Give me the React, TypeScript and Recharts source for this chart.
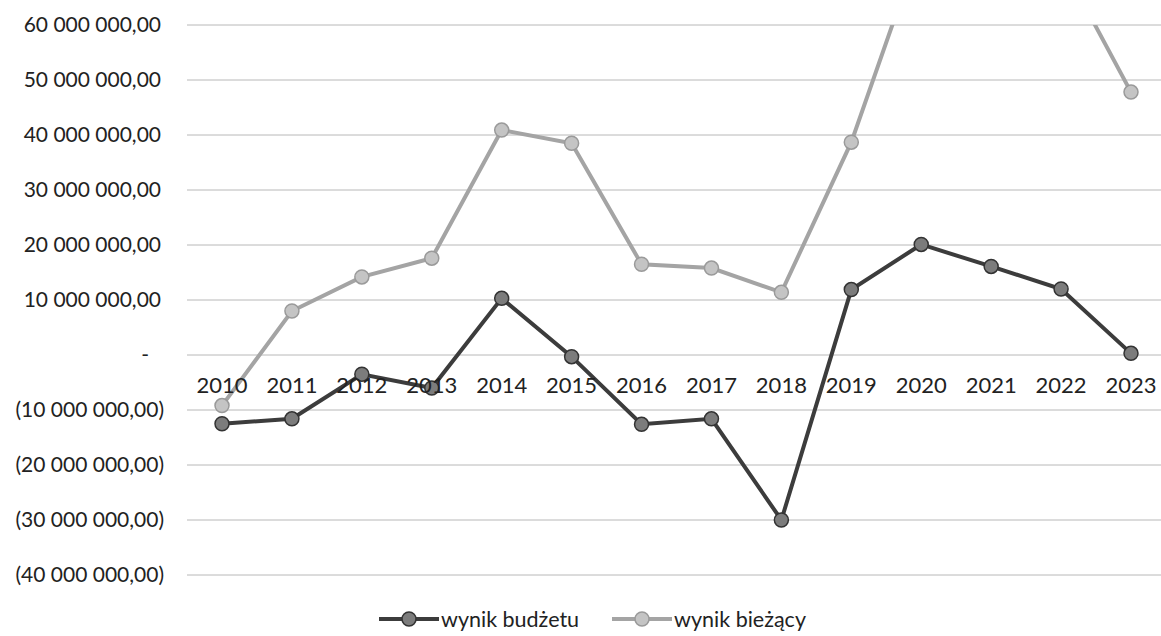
import React from 'react';
import { LineChart, Line, XAxis, YAxis, CartesianGrid, Legend, LabelList } from 'recharts';

const years = ['2010', '2011', '2012', '2013', '2014', '2015', '2016', '2017', '2018', '2019', '2020', '2021', '2022', '2023'];
const wynikBudzetu = [-12500000, -11600000, -3500000, -6000000, 10300000, -300000, -12600000, -11600000, -30000000, 11900000, 20100000, 16100000, 12000000, 300000];
const wynikBiezacy = [-9200000, 8000000, 14200000, 17600000, 40900000, 38500000, 16500000, 15800000, 11400000, 38700000, 75000000, 73000000, 71500000, 47800000];
const yTicks = [-40000000, -30000000, -20000000, -10000000, 0, 10000000, 20000000, 30000000, 40000000, 50000000, 60000000];

const seriesMeta = [
  { key: 'budzet', name: 'wynik budżetu', line: '#3c3c3c', dotFill: '#7c7c7c', dotStroke: '#333333' },
  { key: 'biezacy', name: 'wynik bieżący', line: '#a4a4a4', dotFill: '#c4c4c4', dotStroke: '#9a9a9a' },
];

const data = years.map((year, i) => ({ year, budzet: wynikBudzetu[i], biezacy: wynikBiezacy[i] }));

const FONT = 'Lato, "Open Sans", sans-serif';
const TEXT = '#222222';

const fmtNum = (v: number) => {
  const abs = Math.abs(v);
  const s = Math.round(abs).toString().replace(/\B(?=(\d{3})+(?!\d))/g, ' ');
  return s + ',00';
};

const YTick = (props: any) => {
  const { x, y, payload } = props;
  const v = payload.value as number;
  let label: string;
  let dx = 0;
  if (v === 0) {
    label = '-';
    dx = -14;
  } else if (v < 0) {
    label = '(' + fmtNum(v) + ')';
    dx = 1;
  } else {
    label = fmtNum(v);
    dx = -2;
  }
  return (
    <text x={x + dx} y={y} dy={7} textAnchor="end" fontFamily={FONT} fontSize={21} fill={TEXT}>
      {label}
    </text>
  );
};

const YearLabel = (props: any) => {
  const { x, y, value } = props;
  return (
    <text x={x} y={y + 38} textAnchor="middle" fontFamily={FONT} fontSize={22} fill={TEXT}>
      {value}
    </text>
  );
};

const renderLegend = () => (
  <div style={{ display: 'flex', justifyContent: 'center', alignItems: 'center', paddingLeft: 24, fontFamily: FONT, fontSize: 21.5, color: TEXT, height: 28 }}>
    {seriesMeta.map((s, i) => (
      <div key={s.key} style={{ display: 'flex', alignItems: 'center', marginRight: i === 0 ? 33 : 0 }}>
        <svg width={60} height={20}>
          <line x1={0} y1={10} x2={60} y2={10} stroke={s.line} strokeWidth={4} />
          <circle cx={30} cy={10} r={7} fill={s.dotFill} stroke={s.dotStroke} strokeWidth={1.5} />
        </svg>
        <span style={{ marginLeft: 2 }}>{s.name}</span>
      </div>
    ))}
  </div>
);

export default function App() {
  return (
    <div style={{ position: 'absolute', left: 0, top: 0, width: 1161, height: 636, background: '#ffffff' }}>
      <LineChart width={1161} height={636} data={data} margin={{ top: 25, right: 0, bottom: 61, left: 0 }}>
        <CartesianGrid vertical={false} stroke="#b8b8b8" strokeWidth={1} />
        <XAxis dataKey="year" hide padding={{ left: 35, right: 30 }} />
        <YAxis
          domain={[-40000000, 60000000]}
          ticks={yTicks}
          allowDataOverflow
          axisLine={false}
          tickLine={false}
          tickSize={0}
          tickMargin={24}
          width={187}
          tick={<YTick />}
          interval={0}
        />
        <Line
          dataKey={() => 0}
          stroke="none"
          dot={false}
          activeDot={false}
          legendType="none"
          isAnimationActive={false}
        >
          <LabelList dataKey="year" content={<YearLabel />} />
        </Line>
        {seriesMeta.map((s) => (
          <Line
            key={s.key}
            dataKey={s.key}
            name={s.name}
            stroke={s.line}
            strokeWidth={4}
            dot={{ r: 7, fill: s.dotFill, stroke: s.dotStroke, strokeWidth: 1.5 }}
            activeDot={false}
            isAnimationActive={false}
          />
        ))}
        <Legend
          layout="horizontal"
          verticalAlign="middle"
          align="center"
          content={renderLegend}
          wrapperStyle={{ position: 'absolute', top: 605, left: 0, width: 1161, height: 28 }}
        />
      </LineChart>
    </div>
  );
}
